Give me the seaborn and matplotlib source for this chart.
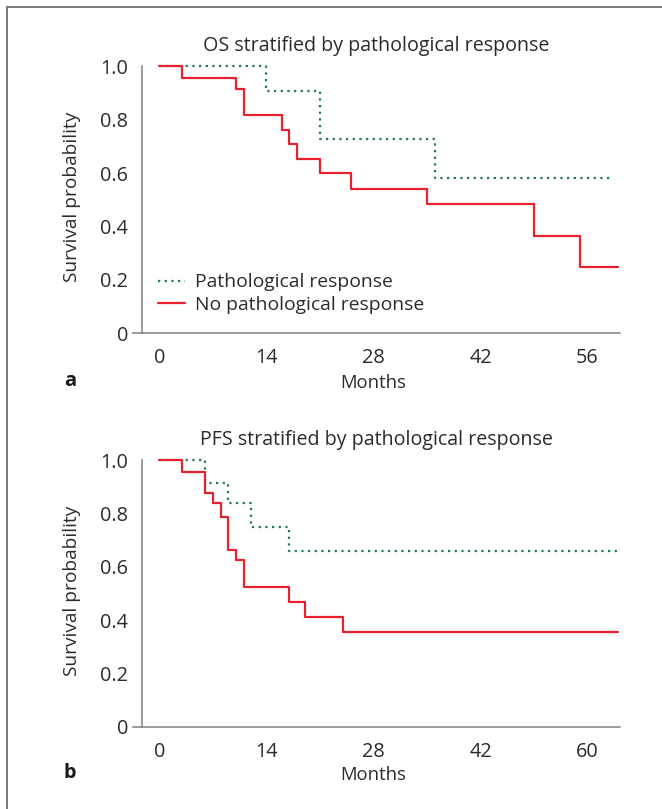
import numpy as np
import pandas as pd
import matplotlib
matplotlib.use("Agg")
import matplotlib.pyplot as plt
from matplotlib.lines import Line2D
import seaborn as sns

# ---------------- data ----------------
groups = ["Pathological response", "No pathological response"]

os_resp_t = [0, 14, 21, 36, 59.3]
os_resp_s = [1.0, 0.909, 0.727, 0.582, 0.582]
os_nore_t = [0, 3, 10, 11, 16, 17, 18, 21, 25, 35, 49, 55, 60]
os_nore_s = [1.0, 0.957, 0.913, 0.818, 0.762, 0.709, 0.653, 0.602, 0.542, 0.483, 0.366, 0.247, 0.247]

pfs_resp_t = [0, 6, 9, 12, 17, 59.9]
pfs_resp_s = [1.0, 0.916, 0.838, 0.750, 0.659, 0.659]
pfs_nore_t = [0, 3, 6, 7, 8, 9, 10, 11, 17, 19, 24, 60]
pfs_nore_s = [1.0, 0.957, 0.877, 0.839, 0.789, 0.664, 0.624, 0.523, 0.467, 0.411, 0.354, 0.354]

xticks = [0, 14, 28, 42, 56]
xticklabels_os = ["0", "14", "28", "42", "56"]
xticklabels_pfs = ["0", "14", "28", "42", "60"]
yticks = [0, 0.2, 0.4, 0.6, 0.8, 1.0]
yticklabels = ["0", "0.2", "0.4", "0.6", "0.8", "1.0"]

titles = ["OS stratified by pathological response", "PFS stratified by pathological response"]
panel_letters = ["a", "b"]

# ---------------- style ----------------
sns.set_theme(style="white")
plt.rcParams["font.family"] = ["Open Sans", "DejaVu Sans"]
TXT = "#2b2b2b"
SPINE = "#808080"
GREEN = "#1f7a4c"
RED = "#e8212e"
FS_TITLE = 14.1
FS_TICK = 14.3
FS_LEG = 13.9
FS_YLAB = 13.8
FS_XLAB = 13.3

def make_df(t1, s1, t2, s2):
    d1 = pd.DataFrame({"Months": t1, "Survival": s1, "Group": groups[0]})
    d2 = pd.DataFrame({"Months": t2, "Survival": s2, "Group": groups[1]})
    return pd.concat([d1, d2], ignore_index=True)

dfs = [make_df(os_resp_t, os_resp_s, os_nore_t, os_nore_s),
       make_df(pfs_resp_t, pfs_resp_s, pfs_nore_t, pfs_nore_s)]

W, H = 662, 809
fig = plt.figure(figsize=(W / 100, H / 100), dpi=100)

# axes rects in pixels: left, right, top(y of 1.0), bottom(y of 0)
rects = [(133.1, 619.6, 66.2, 333.3), (133.1, 619.6, 460.3, 726.7)]
xlab_y = [383, 775]
ylab_center = [197, 591]
letter_y = [381, 773]

for i, (df, (l, r, t, b)) in enumerate(zip(dfs, rects)):
    ax = fig.add_axes([l / W, 1 - b / H, (r - l) / W, (b - t) / H])
    sns.lineplot(data=df, x="Months", y="Survival", hue="Group", style="Group",
                 hue_order=groups, style_order=groups,
                 palette={groups[0]: GREEN, groups[1]: RED},
                 dashes={groups[0]: (1, 2), groups[1]: ""},
                 drawstyle="steps-post", estimator=None, sort=True,
                 linewidth=1.6, ax=ax, legend=(i == 0), clip_on=False)
    ax.set_xlim(-3.45, 60.2)
    ax.set_ylim(0, 1.0)
    for s in ["top", "right"]:
        ax.spines[s].set_visible(False)
    ax.spines["left"].set_position(("data", -2.3))
    for s in ["left", "bottom"]:
        ax.spines[s].set_color(SPINE)
        ax.spines[s].set_linewidth(1.1)
    ax.set_xticks(xticks)
    ax.set_xticklabels(xticklabels_os if i == 0 else xticklabels_pfs)
    ax.set_yticks(yticks)
    ax.set_yticklabels(yticklabels)
    ax.tick_params(axis="both", direction="out", length=6.4, width=1.1,
                   color=SPINE, labelsize=FS_TICK, labelcolor=TXT, pad=3.5)
    ax.tick_params(axis="x", pad=4.5)
    ax.set_xlabel("")
    ax.set_ylabel("")
    ax.set_title(titles[i], fontsize=FS_TITLE, color=TXT, pad=11)
    fig.text(373 / W, 1 - xlab_y[i] / H, "Months", ha="center", va="center",
             fontsize=FS_XLAB, color=TXT)
    fig.text(72 / W, 1 - ylab_center[i] / H, "Survival probability", ha="center",
             va="center", rotation=90, fontsize=FS_YLAB, color=TXT)
    fig.text(70 / W, 1 - letter_y[i] / H, panel_letters[i], ha="center", va="center",
             fontsize=FS_XLAB + 1, fontweight="bold", color="#1a1a1a")
    if i == 0:
        leg = ax.legend(loc="lower left", bbox_to_anchor=(0.035, 0.045), frameon=False,
                        fontsize=FS_LEG, handlelength=1.4, handletextpad=0.5,
                        labelspacing=0.22, borderaxespad=0)
        for txt in leg.get_texts():
            txt.set_color(TXT)

# outer frame (left and top borders)
fig.add_artist(Line2D([7.3 / W, 7.3 / W], [0, 1 - 7.3 / H], transform=fig.transFigure,
                      color="#707070", lw=1.3))
fig.add_artist(Line2D([7.3 / W, 1], [1 - 7.3 / H, 1 - 7.3 / H], transform=fig.transFigure,
                      color="#707070", lw=1.3))

fig.savefig("out.png", dpi=100)
